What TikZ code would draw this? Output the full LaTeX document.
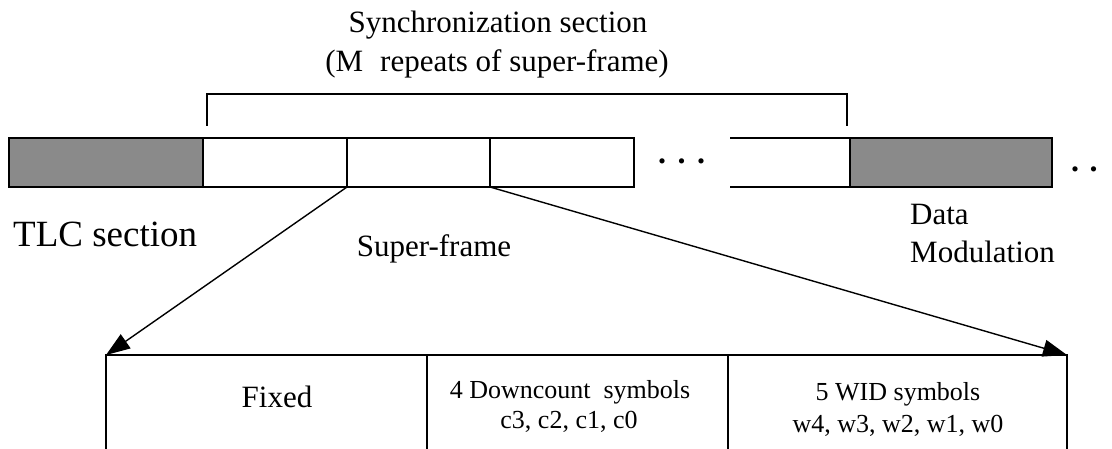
\documentclass[tikz,border=0pt]{standalone}
\usepackage{fontspec}
\setmainfont{Liberation Serif}
\usetikzlibrary{arrows.meta}
\definecolor{shade}{RGB}{138,138,138}
\begin{document}
\begin{tikzpicture}[x=1pt,y=-1pt,
  seg/.style={draw=black,line width=1.8pt,anchor=north west,inner sep=0pt,outer sep=0pt,minimum height=49pt},
  shaded/.style={seg,fill=shade},
  cell/.style={draw=black,line width=1.4pt,anchor=north west,inner sep=0pt,outer sep=0pt,minimum height=120pt},
  zoomline/.style={line width=1.4pt,-{Triangle[length=24pt,width=17pt]}},
  bracketline/.style={line width=1.8pt},
  lbl/.style={inner sep=0pt,anchor=base,font=\fontsize{31}{38}\selectfont},
  small/.style={inner sep=0pt,anchor=base,font=\fontsize{26}{30}\selectfont},
  dotstyle/.style={inner sep=0pt,anchor=base west,font=\fontsize{32}{36}\selectfont\bfseries}]
\clip (0,0) rectangle (1112,449);
\fill[white] (0,0) rectangle (1112,449);
% top bar
\node[shaded,minimum width=194pt] (tlc) at (9,138) {};
\node[seg,minimum width=144pt] (sf1) at (203,138) {};
\node[seg,minimum width=143pt] (sf2) at (347,138) {};
\node[seg,minimum width=144pt] (sf3) at (490,138) {};
\coordinate (sfNa) at (730,138);
\coordinate (sfNb) at (730,187);
\node[shaded,minimum width=202pt] (data) at (850,138) {};
\draw[line width=1.8pt] (sfNa) -- (data.north west) (sfNb) -- (data.south west);
% dots
\node[dotstyle] (dots1) at (658,164) {.\hspace{11.5pt}.\hspace{11.5pt}.};
\node[dotstyle] (dots2) at (1071,172) {.\hspace{10.5pt}.};
% bracket
\coordinate (brl) at (207,126);
\coordinate (brr) at (847,126);
\draw[bracketline] (brl) -- (207,94) -- (847,94) -- (brr);
% titles
\node[lbl] (title1) at (498,33) {Synchronization section};
\node[lbl] (title2) at (497,72) {(M\hspace{0.3em} repeats of super-frame)};
% labels
\node[lbl,anchor=base west,font=\fontsize{37}{44}\selectfont] (tlclbl) at (13,247) {TLC section};
\node[lbl] (sflbl) at (434,257) {Super-frame};
\node[lbl,anchor=base west] (data1) at (910,225) {Data};
\node[lbl,anchor=base west] (data2) at (910,263) {Modulation};
% bottom table
\node[cell,minimum width=321pt] (fixed) at (106,355) {};
\node[cell,minimum width=301pt] (down) at (427,355) {};
\node[cell,minimum width=339pt] (wid) at (728,355) {};
\node[lbl,font=\fontsize{31}{36}\selectfont] (fixedlbl) at (277,407) {Fixed};
\node[small] (down1) at (570,398) {4 Downcount\hspace{0.25em} symbols};
\node[small] (down2) at (569,428) {c3, c2, c1, c0};
\node[small] (wid1) at (898,400) {5 WID symbols};
\node[small] (wid2) at (898,432) {w4, w3, w2, w1, w0};
% zoom connectors
\draw[zoomline] (sf2.south west) -- (fixed.north west);
\draw[zoomline] (sf2.south east) -- (wid.north east);
\end{tikzpicture}
\end{document}
